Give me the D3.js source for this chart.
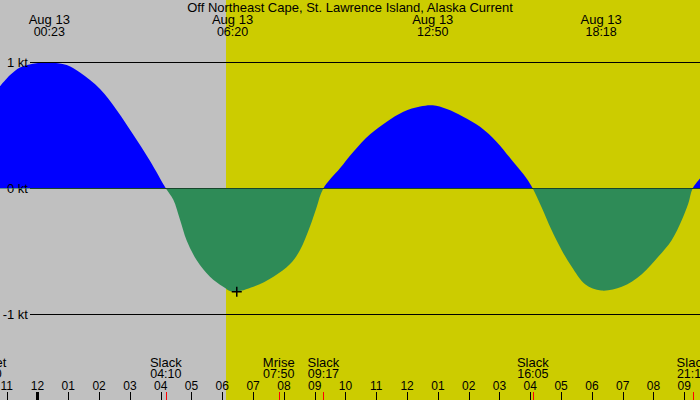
<!DOCTYPE html>
<html lang="en">
<head>
    <meta charset="UTF-8">
    <title>Off Northeast Cape Current</title>
    <style>
        body {
            margin: 0;
            padding: 0;
            background: #c0c0c0;
        }
        svg text {
            font-family: 'Liberation Sans', Arial, sans-serif;
            font-size: 13px;
            fill: #000;
        }
        svg text.num {
            font-size: 12.5px;
        }
        svg text.hour {
            font-size: 12px;
        }
    </style>
    <script src="https://d3js.org/d3.v7.min.js"></script>
</head>
<body>
    <svg id="chart" width="700" height="400"></svg>

    <script>
        // hours relative to Aug 13 00:00, values in knots
        const flowHours = [-1.22, -0.89, -0.57, -0.15, 0.38, 0.95, 1.38, 2.03, 2.58, 3.10, 3.65, 4.17,
            4.41, 4.63, 4.84, 5.17, 5.60, 6.03, 6.33, 7.01, 7.66, 8.20, 8.52, 8.85, 9.06, 9.28,
            9.82, 10.25, 10.80, 11.34, 11.88, 12.42, 12.83, 13.29, 13.82, 14.37, 14.91, 15.45, 15.88, 16.08,
            16.37, 16.69, 17.02, 17.34, 17.78, 18.30, 18.97, 19.62, 20.16, 20.59, 20.92, 21.13, 21.27, 21.51];
        const flowKnots = [0.81, 0.90, 0.96, 0.99, 1.00, 0.98, 0.92, 0.79, 0.62, 0.43, 0.22, 0,
            -0.09, -0.25, -0.41, -0.57, -0.70, -0.78, -0.82, -0.78, -0.70, -0.60, -0.49, -0.30, -0.15, 0,
            0.16, 0.29, 0.43, 0.53, 0.61, 0.65, 0.66, 0.63, 0.57, 0.49, 0.37, 0.21, 0.08, 0,
            -0.15, -0.33, -0.49, -0.62, -0.76, -0.81, -0.78, -0.68, -0.54, -0.41, -0.25, -0.12, 0, 0.08];

        const peakHours = [0.383, 6.333, 12.833, 18.3];
        const peakDates = ["Aug 13", "Aug 13", "Aug 13", "Aug 13"];
        const peakTimes = ["00:23", "06:20", "12:50", "18:18"];

        const eventHours = [-1.667, 4.167, 7.833, 9.283, 16.083, 21.267];
        const eventNames = ["Sunset", "Slack", "Mrise", "Slack", "Slack", "Slack"];
        const eventTimes = ["22:20", "04:10", "07:50", "09:17", "16:05", "21:16"];

        const sunriseHour = 6.12;
        const markerHour = 6.47;
        const markerKnots = -0.82;

        const levelKnots = [1, 0, -1];
        const levelLabels = ["1 kt", "0 kt", "-1 kt"];

        const title = "Off Northeast Cape, St. Lawrence Island, Alaska Current";

        const W = 700, H = 400;
        const base = new Date(2024, 7, 13).getTime();
        const toDate = h => new Date(base + h * 3600e3);

        const x = d3.scaleTime()
            .domain([toDate(-1.2175), toDate(21.51)])
            .range([0, W]);
        const y = d3.scaleLinear()
            .domain([-1, 1])
            .range([314.5, 62.5]);

        const svg = d3.select("#chart");

        // night / day background
        const sx = x(toDate(sunriseHour));
        svg.append("rect")
            .attr("x", 0).attr("y", 0)
            .attr("width", sx).attr("height", H)
            .attr("fill", "#c0c0c0");
        svg.append("rect")
            .attr("x", sx).attr("y", 0)
            .attr("width", W - sx).attr("height", H)
            .attr("fill", "#cccc00");

        const defs = svg.append("defs");
        defs.append("clipPath").attr("id", "above")
            .append("rect").attr("x", 0).attr("y", 0).attr("width", W).attr("height", y(0));
        defs.append("clipPath").attr("id", "below")
            .append("rect").attr("x", 0).attr("y", y(0) - 0.5).attr("width", W).attr("height", H);

        const pts = flowHours.map((h, i) => ({ t: toDate(h), v: flowKnots[i] }));

        const area = d3.area()
            .x(d => x(d.t))
            .y0(y(0))
            .y1(d => y(d.v))
            .curve(d3.curveCatmullRom.alpha(0.5));

        svg.append("path").attr("d", area(pts))
            .attr("fill", "#0000ff").attr("clip-path", "url(#above)");

        // level lines
        svg.selectAll(".level")
            .data(levelKnots)
            .enter().append("line")
            .attr("x1", 30).attr("x2", W)
            .attr("y1", d => y(d)).attr("y2", d => y(d))
            .attr("stroke", "#000").attr("stroke-width", 1);

        svg.selectAll(".level-label")
            .data(levelKnots)
            .enter().append("text")
            .attr("x", 28)
            .attr("y", d => y(d))
            .attr("dy", "0.35em")
            .attr("text-anchor", "end")
            .text((d, i) => levelLabels[i]);

        svg.append("path").attr("d", area(pts))
            .attr("fill", "#2e8b57").attr("clip-path", "url(#below)");

        // marker
        const mx = x(toDate(markerHour)), my = y(markerKnots);
        svg.append("path")
            .attr("d", `M${mx - 5},${my}H${mx + 5}M${mx},${my - 5}V${my + 5}`)
            .attr("stroke", "#000").attr("stroke-width", 1.5);

        // title
        svg.append("text")
            .attr("x", W / 2).attr("y", 12)
            .attr("text-anchor", "middle")
            .text(title);

        // peak labels
        const peaks = svg.selectAll(".peak")
            .data(peakHours)
            .enter().append("g");
        peaks.append("text")
            .attr("x", d => x(toDate(d))).attr("y", 24)
            .attr("text-anchor", "middle")
            .text((d, i) => peakDates[i]);
        peaks.append("text")
            .attr("class", "num")
            .attr("x", d => x(toDate(d))).attr("y", 35.5)
            .attr("text-anchor", "middle")
            .text((d, i) => peakTimes[i]);

        // hour ticks
        const hours = x.ticks(d3.timeHour.every(1));
        const fmt = d3.timeFormat("%I");
        svg.selectAll(".tick")
            .data(hours)
            .enter().append("line")
            .attr("x1", d => Math.round(x(d)) + 0.5).attr("x2", d => Math.round(x(d)) + 0.5)
            .attr("y1", 392).attr("y2", H)
            .attr("stroke", "#000")
            .attr("stroke-width", d => d.getHours() === 0 ? 3 : 1);
        svg.selectAll(".hour")
            .data(hours)
            .enter().append("text")
            .attr("class", "hour")
            .attr("x", d => x(d)).attr("y", 390)
            .attr("text-anchor", "middle")
            .text(d => fmt(d));

        // events
        svg.selectAll(".ev-tick")
            .data(eventHours)
            .enter().append("line")
            .attr("x1", d => Math.round(x(toDate(d))) + 0.5).attr("x2", d => Math.round(x(toDate(d))) + 0.5)
            .attr("y1", 392).attr("y2", H)
            .attr("stroke", "#ff0000").attr("stroke-width", 1);
        svg.selectAll(".ev-name")
            .data(eventHours)
            .enter().append("text")
            .attr("x", d => x(toDate(d))).attr("y", 366.5)
            .attr("text-anchor", "middle")
            .text((d, i) => eventNames[i]);
        svg.selectAll(".ev-time")
            .data(eventHours)
            .enter().append("text")
            .attr("class", "num")
            .attr("x", d => x(toDate(d))).attr("y", 378)
            .attr("text-anchor", "middle")
            .text((d, i) => eventTimes[i]);
    </script>
</body>
</html>
